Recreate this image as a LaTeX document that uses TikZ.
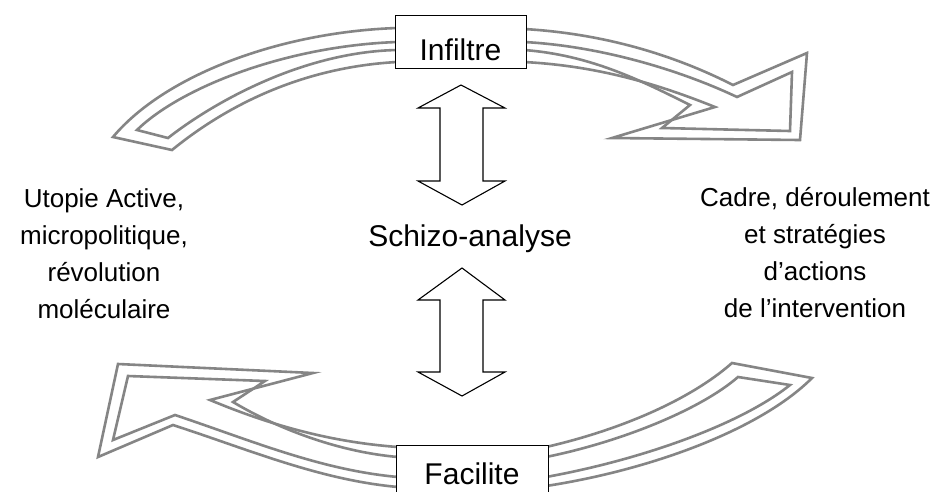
\documentclass[tikz,border=0pt]{standalone}
\usepackage{fontspec}
\setmainfont{Liberation Sans}
\tikzset{
	box/.style={draw, fill=white, line width=1pt, inner sep=0pt, font=\fontsize{30}{32}\selectfont},
	band/.style={draw=black!48, line width=2.6pt, line join=miter, miter limit=20},
	dblarrow/.style={draw, line width=1.1pt, fill=white, line join=miter},
	sidetext/.style={align=center, font=\fontsize{26}{36.7}\selectfont},
}
\begin{document}
\begin{tikzpicture}[x=1pt, y=-1pt]
\clip (0,0) rectangle (939,491);
\fill[white] (0,0) rectangle (939,491);

% haut, partie gauche
\draw[band] (397,28) .. controls (280,32) and (165,75) .. (113,137) -- (172,150)
	.. controls (215,115) and (290,68) .. (397,62);
\draw[band] (397,42) .. controls (285,46) and (180,88) .. (137,130) -- (168,138)
	.. controls (210,105) and (300,52) .. (397,50);
% haut, partie droite
\draw[band] (524,29) .. controls (610,34) and (680,58) .. (733,85) -- (807,53)
	-- (800,140) -- (612,138) -- (715,107) .. controls (660,85) and (600,66) .. (524,62);
\draw[band] (524,42) .. controls (600,46) and (680,70) .. (737,97) -- (792,72)
	-- (790,131) -- (662,128) -- (690,105) .. controls (640,80) and (590,55) .. (524,50);
% bas, partie gauche
\draw[band] (398,447) .. controls (330,442) and (270,425) .. (210,400) -- (313,373)
	-- (118,364) -- (98,457) -- (173,425) .. controls (250,450) and (320,480) .. (398,487);
\draw[band] (398,457) .. controls (340,452) and (280,430) .. (233,402) -- (265,381)
	-- (128,376) -- (113,440) -- (175,415) .. controls (250,440) and (320,470) .. (398,477);
% bas, partie droite
\draw[band] (546,447) .. controls (620,430) and (690,400) .. (732,363) -- (812,378)
	.. controls (760,430) and (650,470) .. (546,486);
\draw[band] (546,457) .. controls (620,442) and (700,410) .. (738,377) -- (790,385)
	.. controls (740,425) and (640,460) .. (546,477);

\node[box, minimum width=131pt, minimum height=53pt, text height=37pt, text depth=0pt] (infiltre) at (460.5,41.5) {Infiltre};
\node[box, minimum width=152pt, minimum height=70pt, anchor=north] (facilite) at (472,445) {};
\node[font=\fontsize{30}{32}\selectfont, anchor=base] (facilitetxt) at (472,484) {Facilite};

% doubles fleches
\draw[dblarrow] (461,85) -- (505,108) -- (483,108) -- (483,181) -- (505,181) -- (462,205)
	-- (418,181) -- (440,181) -- (440,108) -- (418,108) -- cycle;
\draw[dblarrow] (462,268) -- (505,300) -- (483,300) -- (483,372) -- (505,372) -- (462,396)
	-- (418,372) -- (440,372) -- (440,300) -- (418,300) -- cycle;

\node[font=\fontsize{30}{32}\selectfont, anchor=base] (schizo) at (470,246) {Schizo-analyse};
\node[sidetext, anchor=base] (utopie) at (104,318) {Utopie Active,\\micropolitique,\\révolution\\moléculaire};
\node[sidetext, anchor=base] (cadre) at (815,317) {Cadre, déroulement\\et stratégies\\d’actions\\de l’intervention};
\end{tikzpicture}
\end{document}
